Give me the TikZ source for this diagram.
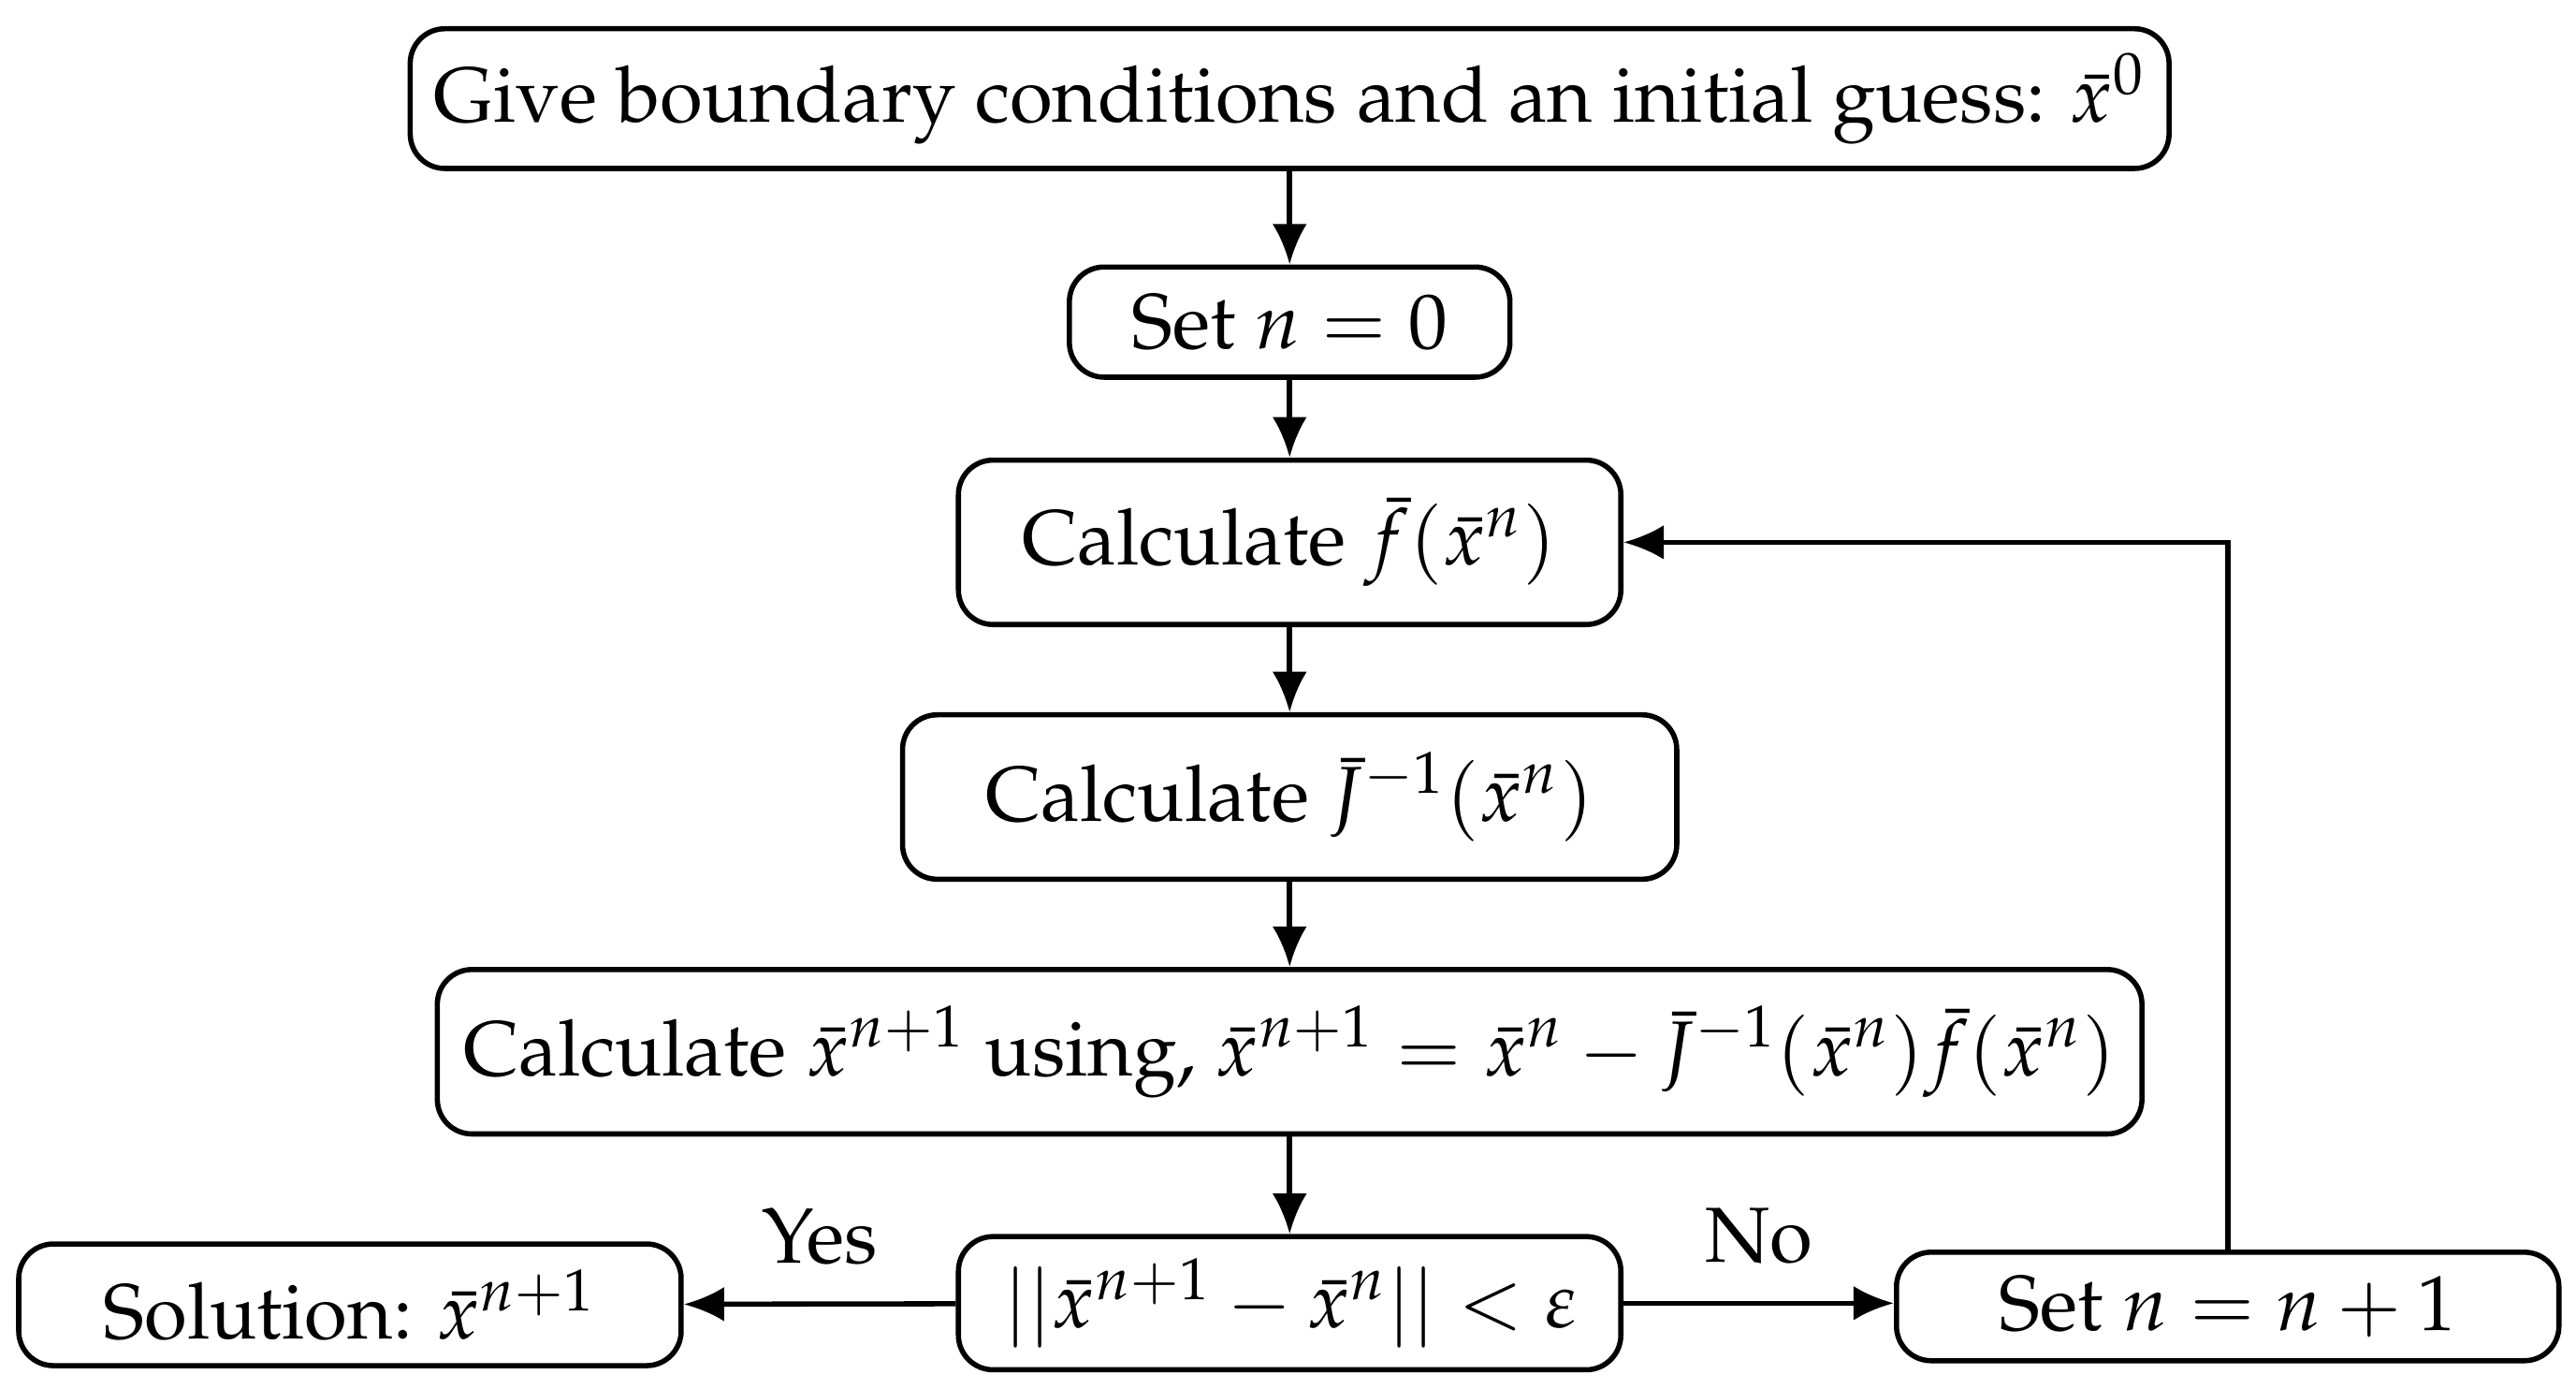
\documentclass[tikz,border=0pt]{standalone}
\usepackage[T1]{fontenc}
\usepackage{mathpazo}
\usetikzlibrary{arrows.meta}
\begin{document}
\begin{tikzpicture}[x=0.01cm,y=-0.01cm,
  box/.style={draw,line width=0.9pt,rounded corners=6pt,inner sep=0pt,font=\fontsize{13.5}{16}\selectfont},
  arr/.style={line width=0.9pt,-{Latex[length=7pt,width=6pt]}}]
\useasboundingbox (0,0) rectangle (1568,845);
\node[box,minimum width=10.70cm,minimum height=0.85cm] (a) at (785,60) {Give boundary conditions and an initial guess: $\bar{x}^0$};
\node[box,minimum width=2.68cm,minimum height=0.67cm] (b) at (785,196) {Set $n=0$};
\node[box,minimum width=4.03cm,minimum height=1.00cm] (c) at (785,330) {Calculate $\bar{f}(\bar{x}^n)$};
\node[box,minimum width=4.71cm,minimum height=1.00cm] (d) at (785,485) {Calculate $\bar{J}^{-1}(\bar{x}^n)$};
\node[box,minimum width=10.37cm,minimum height=1.00cm] (e) at (785,640) {Calculate $\bar{x}^{n+1}$ using, $\bar{x}^{n+1}=\bar{x}^n-\bar{J}^{-1}(\bar{x}^n)\bar{f}(\bar{x}^n)$};
\node[box,minimum width=4.03cm,minimum height=0.81cm] (f) at (785,793) {$||\bar{x}^{n+1}-\bar{x}^n||<\varepsilon$};
\node[box,minimum width=4.03cm,minimum height=0.74cm] (g) at (213,794) {Solution: $\bar{x}^{n+1}$};
\node[box,minimum width=4.03cm,minimum height=0.66cm] (h) at (1356,795) {Set $n=n+1$};
\draw[arr] (a) -- (b);
\draw[arr] (b) -- (c);
\draw[arr] (c) -- (d);
\draw[arr] (d) -- (e);
\draw[arr] (e) -- (f);
\draw[arr] (f) -- node[above=3pt,font=\fontsize{13.5}{16}\selectfont] (yes) {Yes} (g);
\draw[arr] (f) -- node[above=3pt,font=\fontsize{13.5}{16}\selectfont] (no) {No} (f -| h.west);
\draw[arr] (h.north) |- (c.east);
\end{tikzpicture}
\end{document}
